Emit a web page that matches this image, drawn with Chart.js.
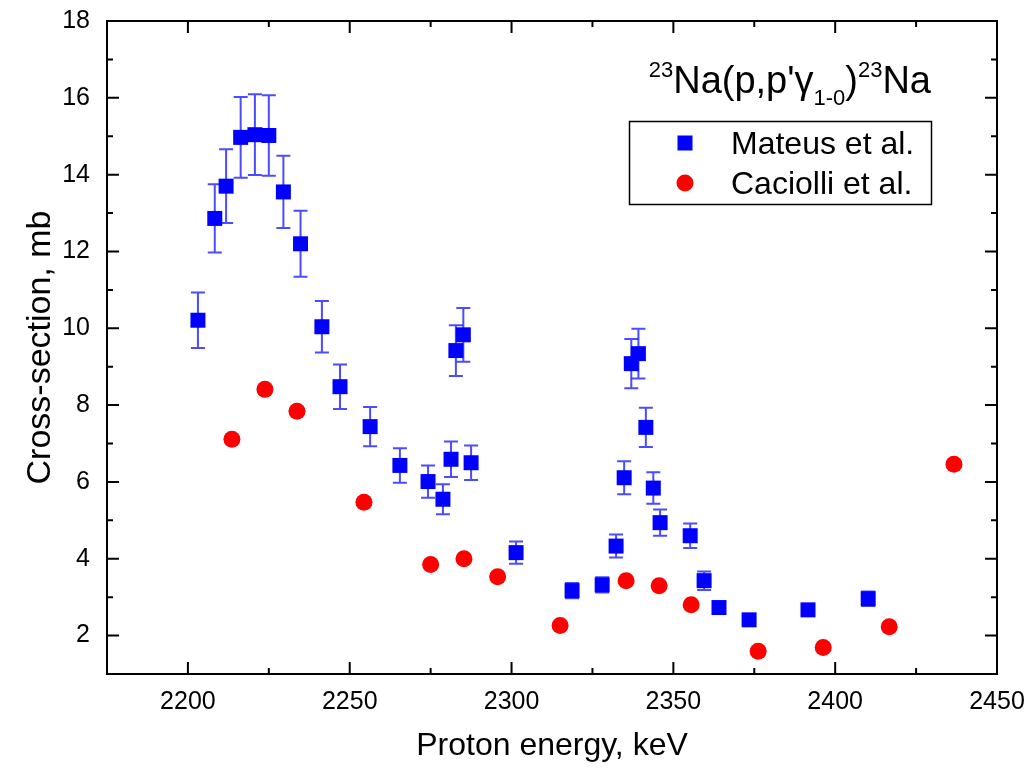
<!DOCTYPE html>
<html><head><meta charset="utf-8">
<script src="https://cdn.jsdelivr.net/npm/chart.js@4.4.1/dist/chart.umd.min.js"></script>
<style>html,body{margin:0;padding:0;background:#fff}#wrap{width:1030px;height:773px;position:relative}</style>
</head><body><div id="wrap"><canvas id="c" width="1030" height="773"></canvas></div>
<script>
// ---- data ----
const mateusEnergy = [2203.1,2208.3,2211.8,2216.3,2220.7,2225.0,2229.5,2234.8,2241.4,2247.0,2256.3,2265.5,2274.2,2278.8,2281.3,2282.8,2285.1,2287.5,2301.4,2318.7,2328.0,2332.3,2334.8,2337.0,2339.2,2341.5,2343.8,2345.9,2355.2,2359.5,2364.1,2373.4,2391.6,2410.2];
const mateusXS     = [10.21,12.86,13.70,14.97,15.04,15.02,13.55,12.20,10.04,8.48,7.44,6.43,6.01,5.55,6.59,9.42,9.83,6.50,4.16,3.17,3.32,4.33,6.11,9.08,9.34,7.42,5.84,4.94,4.60,3.43,2.73,2.41,2.67,2.96];
const mateusErr    = [0.72,0.89,0.96,1.05,1.05,1.05,0.94,0.86,0.67,0.58,0.51,0.45,0.42,0.39,0.46,0.66,0.70,0.45,0.29,0.20,0.20,0.30,0.43,0.64,0.65,0.51,0.41,0.34,0.32,0.24,0.08,0.05,0.05,0.19];
const caciolliEnergy = [2213.6,2223.8,2233.7,2254.4,2275.0,2285.3,2295.7,2315.0,2335.4,2345.6,2355.5,2376.2,2396.3,2416.7,2436.7];
const caciolliXS     = [7.11,8.41,7.84,5.47,3.85,4.00,3.53,2.26,3.43,3.30,2.80,1.59,1.69,2.23,6.46];
const xTickValues  = [2200,2250,2300,2350,2400,2450];
const xMinorValues = [2225,2275,2325,2375,2425];
const yTickValues  = [2,4,6,8,10,12,14,16,18];
const yMinorValues = [3,5,7,9,11,13,15,17];
const seriesNames = ['Mateus et al.','Caciolli et al.'];

const FONT = '"Liberation Sans", Arial, Helvetica, sans-serif';

const errorBars = {
  id:'errorBars',
  beforeDatasetsDraw(chart){
    const {ctx, scales:{x,y}} = chart;
    ctx.save();
    ctx.strokeStyle = 'rgba(30,30,255,0.8)';
    ctx.lineWidth = 2;
    for (let i=0;i<mateusEnergy.length;i++){
      const px = x.getPixelForValue(mateusEnergy[i]);
      const top = y.getPixelForValue(mateusXS[i]+mateusErr[i]);
      const bot = y.getPixelForValue(mateusXS[i]-mateusErr[i]);
      ctx.beginPath();
      ctx.moveTo(px,top); ctx.lineTo(px,bot);
      ctx.moveTo(px-7,top); ctx.lineTo(px+7,top);
      ctx.moveTo(px-7,bot); ctx.lineTo(px+7,bot);
      ctx.stroke();
    }
    ctx.restore();
  }
};

const frameTicks = {
  id:'frameTicks',
  afterDraw(chart){
    const {ctx, chartArea:a, scales:{x,y}} = chart;
    ctx.save();
    ctx.strokeStyle = '#000';
    ctx.lineWidth = 2;
    ctx.strokeRect(a.left, a.top, a.right-a.left, a.bottom-a.top);
    ctx.beginPath();
    const tk = (vals, len) => {
      vals.forEach(v=>{
        const px = x.getPixelForValue(v);
        ctx.moveTo(px,a.bottom); ctx.lineTo(px,a.bottom-len);
        ctx.moveTo(px,a.top); ctx.lineTo(px,a.top+len);
      });
    };
    const tky = (vals, len) => {
      vals.forEach(v=>{
        const py = y.getPixelForValue(v);
        ctx.moveTo(a.left,py); ctx.lineTo(a.left+len,py);
        ctx.moveTo(a.right,py); ctx.lineTo(a.right-len,py);
      });
    };
    tk(xTickValues,12); tk(xMinorValues,6);
    tky(yTickValues,12); tky(yMinorValues,6);
    ctx.stroke();
    ctx.restore();
  }
};

const titleLegend = {
  id:'titleLegend',
  afterDraw(chart){
    const ctx = chart.ctx;
    ctx.save();
    ctx.fillStyle = '#000';
    const parts = [
      {t:'23', f:22, dy:-16},
      {t:"Na(p,p'\u03B3", f:38, dy:0},
      {t:'1-0', f:22, dy:12},
      {t:')', f:38, dy:0},
      {t:'23', f:22, dy:-16},
      {t:'Na', f:38, dy:0}
    ];
    let total = 0;
    parts.forEach(p=>{ctx.font = p.f+'px '+FONT; p.w = ctx.measureText(p.t).width; total += p.w;});
    let cx = 931 - total;
    const base = 93;
    ctx.textBaseline = 'alphabetic';
    ctx.textAlign = 'left';
    parts.forEach(p=>{ctx.font = p.f+'px '+FONT; ctx.fillText(p.t, cx, base+p.dy); cx += p.w;});
    ctx.strokeStyle = '#000';
    ctx.lineWidth = 1.5;
    ctx.strokeRect(629.5,121.5,302,83);
    const ds = chart.data.datasets;
    ctx.fillStyle = ds[0].backgroundColor;
    ctx.fillRect(685-7.5,143-7.5,15,15);
    ctx.fillStyle = ds[1].backgroundColor;
    ctx.beginPath(); ctx.arc(685,183,8.5,0,Math.PI*2); ctx.fill();
    ctx.fillStyle = '#000';
    ctx.font = '32px '+FONT;
    ctx.textBaseline = 'middle';
    ctx.fillText(seriesNames[0], 731, 145);
    ctx.fillText(seriesNames[1], 731, 185);
    ctx.restore();
  }
};

function zeroPad(s){ s.paddingTop = 0; s.paddingBottom = 0; s.paddingLeft = 0; s.paddingRight = 0; }

new Chart(document.getElementById('c'), {
  type:'scatter',
  data:{
    datasets:[
      {label:seriesNames[0], data:mateusEnergy.map((e,i)=>({x:e,y:mateusXS[i]})),
       pointStyle:'rect', pointRadius:10.6, pointHoverRadius:10.6, backgroundColor:'#0000ff', borderColor:'#0000ff', borderWidth:0},
      {label:seriesNames[1], data:caciolliEnergy.map((e,i)=>({x:e,y:caciolliXS[i]})),
       pointStyle:'circle', pointRadius:8.5, pointHoverRadius:8.5, backgroundColor:'#ff0000', borderColor:'#ff0000', borderWidth:0}
    ]
  },
  options:{
    responsive:false, animation:false, devicePixelRatio:1,
    layout:{padding:{top:21,right:33,left:0,bottom:0}},
    plugins:{legend:{display:false}, tooltip:{enabled:false}},
    scales:{
      x:{type:'linear', min:2175, max:2450,
         afterFit(s){s.height = 99; zeroPad(s);},
         afterBuildTicks(s){s.ticks = xTickValues.map(v=>({value:v}));},
         grid:{display:false, drawTicks:false}, border:{display:false},
         ticks:{font:{family:FONT,size:25}, color:'#000', padding:13, maxRotation:0, autoSkip:false, callback:v=>String(v)},
         title:{display:true, text:'Proton energy, keV', font:{family:FONT,size:32}, color:'#000', padding:{top:0,bottom:8}}
      },
      y:{type:'linear', min:1, max:18,
         afterFit(s){s.width = 107; zeroPad(s);},
         afterBuildTicks(s){s.ticks = yTickValues.map(v=>({value:v}));},
         grid:{display:false, drawTicks:false}, border:{display:false},
         ticks:{font:{family:FONT,size:25}, color:'#000', padding:17, autoSkip:false, callback:v=>String(v)},
         title:{display:true, text:'Cross-section, mb', font:{family:FONT,size:34}, color:'#000', padding:{top:20,bottom:0}}
      }
    }
  },
  plugins:[errorBars, frameTicks, titleLegend]
});
</script></body></html>
